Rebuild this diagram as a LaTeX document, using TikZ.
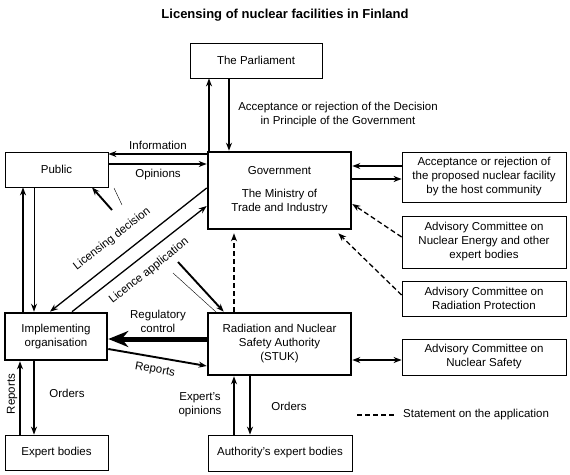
\documentclass[tikz,border=0pt]{standalone}
\usepackage{fontspec}
\setmainfont{Liberation Sans}
\usetikzlibrary{arrows.meta}

\begin{document}
\begin{tikzpicture}[x=1pt, y=-1pt, font=\fontsize{11.5}{14}\selectfont,
		>={Stealth[length=8pt,width=6pt]},
		box/.style={draw=black, rectangle, inner sep=0pt, align=center, line width=0.8pt},
		mainbox/.style={box, line width=2.6pt},
		arr/.style={->, line width=1.3pt},
		thickarr/.style={->, line width=2.3pt},
		statement/.style={dash pattern=on 5pt off 3pt},
		lbl/.style={align=center, inner sep=0pt}]
			\useasboundingbox (0,0) rectangle (570,474);
			\node [font=\fontsize{13}{15}\selectfont\bfseries] (title) at (285,15) {Licensing of nuclear facilities in Finland};
			\node [box, minimum width=132, minimum height=35] (parliament) at (256,60.5) {The Parliament};
			\node [box, minimum width=103, minimum height=35] (public) at (56.5,169.5) {Public};
			\node [mainbox, minimum width=143, minimum height=77] (government) at (279.5,190.5) {Government\\[9pt]The Ministry of\\Trade and Industry};
			\node [box, minimum width=164, minimum height=50] (host) at (484,177) {Acceptance or rejection of\\the proposed nuclear facility\\by the host community};
			\node [box, minimum width=164, minimum height=52] (energy) at (484,242) {Advisory Committee on\\Nuclear Energy and other\\expert bodies};
			\node [box, minimum width=164, minimum height=35] (radiation) at (484,298.5) {Advisory Committee on\\Radiation Protection};
			\node [mainbox, minimum width=102, minimum height=47] (impl) at (56,336.5) {Implementing\\organisation};
			\node [mainbox, minimum width=143, minimum height=62] (stuk) at (279.5,344) {Radiation and Nuclear\\Safety Authority\\(STUK)};
			\node [box, minimum width=164, minimum height=36] (safety) at (484,357) {Advisory Committee on\\Nuclear Safety};
			\node [box, minimum width=103, minimum height=35] (experts) at (56.5,452.5) {Expert bodies};
			\node [box, minimum width=144, minimum height=36] (authexperts) at (280,453) {Authority's expert bodies};

			\draw [arr] ([xshift=-70.5]government.north) -- ([xshift=-47]parliament.south);
			\draw [arr] ([xshift=-27]parliament.south) -- ([xshift=-50.5]government.north);
			\node [lbl] (decision) at (338,115) {Acceptance or rejection of the Decision\\in Principle of the Government};
			\draw [arr] ([yshift=36.5]government.west) -- ([yshift=15.5]public.east);
			\draw [arr, line width=1.9pt] ([yshift=5.5]public.east) -- ([yshift=26.5]government.west);
			\node [lbl] (information) at (158,145) {Information};
			\node [lbl] (opinions) at (158,175) {Opinions};
			\draw [thickarr] ([xshift=-33]impl.north) -- ([xshift=-33.5]public.south);
			\draw [arr, line width=1pt] ([xshift=-22.5]public.south) -- ([xshift=-22]impl.north);
			\draw [arr] ([yshift=2.5]government.west) -- ([xshift=-6]impl.north);
			\draw [arr] ([xshift=16]impl.north) -- ([yshift=-15.5]government.west);
			\node [lbl, rotate=38] (licensing) at (112,239) {Licensing decision};
			\node [lbl, rotate=38.5] (application) at (149,271) {Licence application};
			\coordinate (pubfrom) at (112,210);
			\coordinate (pubthinA) at (114,188);
			\coordinate (pubthinB) at (122,205);
			\draw [arr, line width=1.9pt] (pubfrom) -- ([xshift=35.5]public.south);
			\draw [line width=0.4pt] (pubthinA) -- (pubthinB);
			\coordinate (stukfrom) at (178,262);
			\coordinate (stukthinA) at (173,273);
			\coordinate (stukthinB) at (216,312);
			\draw [arr, line width=1.9pt] (stukfrom) -- ([xshift=17]stuk.north west);
			\draw [line width=0.4pt] (stukthinA) -- (stukthinB);

			\draw [arr] ([yshift=11]host.west) -- ([yshift=24.5]government.east);
			\draw [thickarr] ([yshift=11.5]government.east) -- ([yshift=-2]host.west);
			\draw [arr, statement] ([yshift=5]energy.west) -- ([yshift=-13.5]government.east);
			\draw [arr, statement] ([yshift=3.5]radiation.west) -- ([xshift=-14,yshift=-3]government.south east);
			\draw [thickarr, statement] ([xshift=-45.5]stuk.north) -- ([xshift=-45.5,yshift=-3]government.south);

			\draw [line width=5pt, -{Stealth[length=20pt,width=16pt]}] ([yshift=5]stuk.west) -- ([yshift=-2.5]impl.east);
			\node [lbl] (regulatory) at (158,321) {Regulatory\\control};
			\draw [arr, line width=1.9pt] ([yshift=-12.5]impl.east) -- ([yshift=-22]stuk.west);
			\node [lbl, rotate=-10] (reportsstuk) at (155,370) {Reports};
			\draw [arr, <->] ([yshift=-16]stuk.east) -- ([yshift=-3]safety.west);

			\draw [arr] ([xshift=-36.5]experts.north) -- ([xshift=-36]impl.south);
			\draw [arr, line width=1.9pt] ([xshift=-22]impl.south) -- ([xshift=-22.5]experts.north);
			\node [lbl, rotate=90] (reportsexp) at (12,394) {Reports};
			\node [lbl] (ordersexp) at (67,393) {Orders};
			\draw [thickarr] ([xshift=-46]authexperts.north) -- ([xshift=-45.5]stuk.south);
			\draw [arr] ([xshift=-29.5]stuk.south) -- ([xshift=-30]authexperts.north);
			\node [lbl] (opinionsexp) at (200,405) {Expert's\\opinions};
			\node [lbl] (ordersauth) at (289,406) {Orders};

			\node [lbl, anchor=west] (legend) at (403,415) {Statement on the application};
			\draw [line width=1.6pt, statement] ([xshift=-46]legend.west) -- ([xshift=-8]legend.west);
		\end{tikzpicture}
\end{document}
